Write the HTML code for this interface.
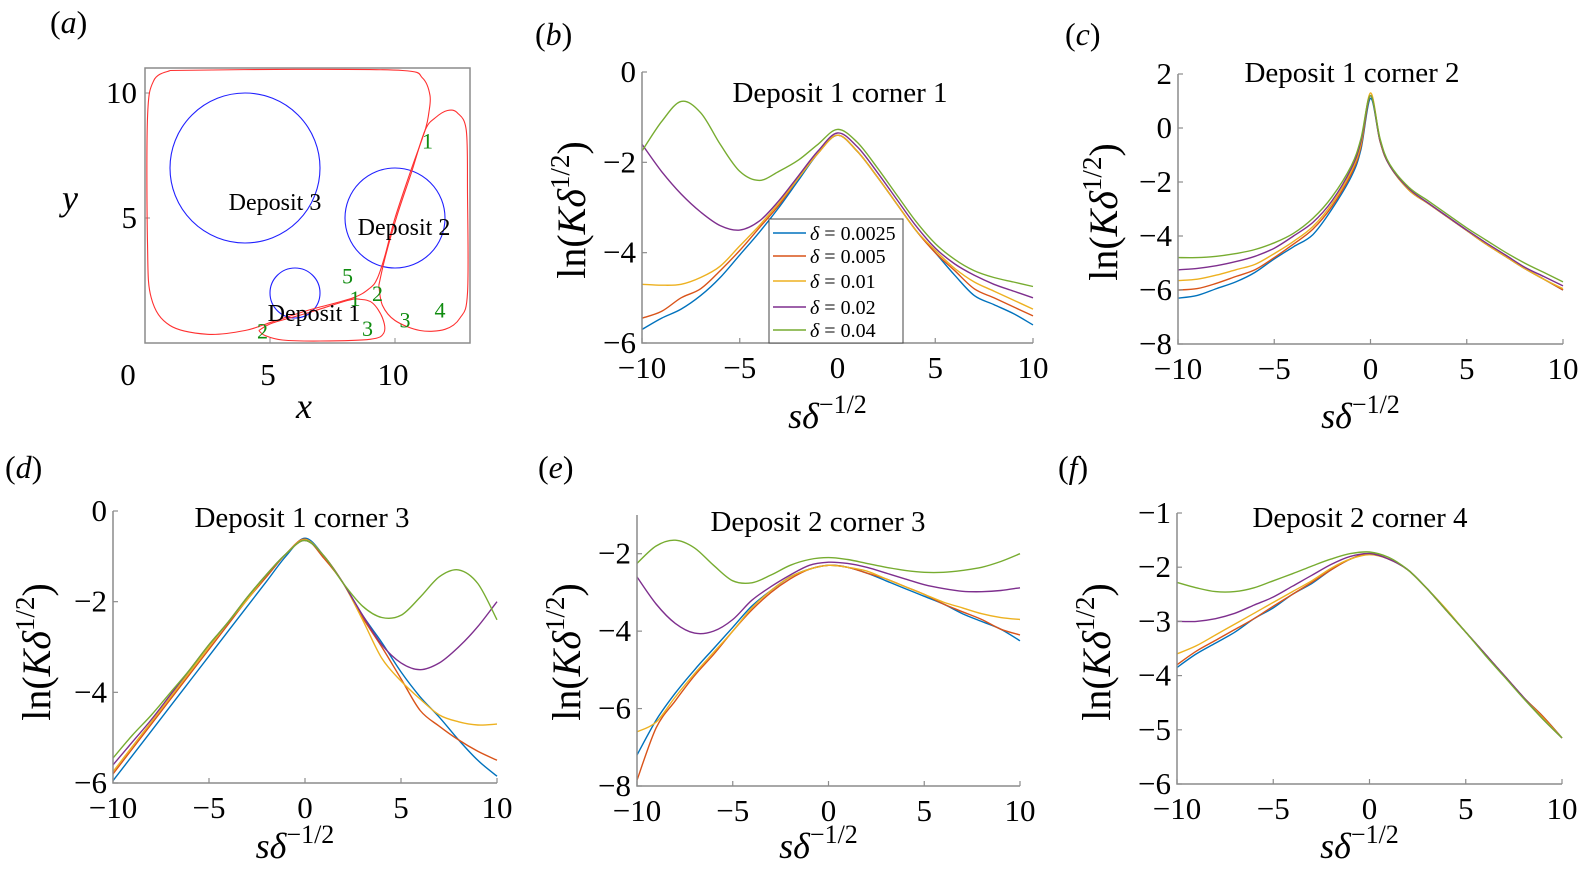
<!DOCTYPE html>
<html><head><meta charset="utf-8"><style>
html,body{margin:0;padding:0;background:#fff;}
svg{display:block;font-family:"Liberation Serif",serif;}
</style></head><body>
<svg id="fig" width="1580" height="887" viewBox="0 0 1580 887" xmlns="http://www.w3.org/2000/svg"></svg>
<script>
// ---------- data ----------
const seriesNames = ["δ = 0.0025","δ = 0.005","δ = 0.01","δ = 0.02","δ = 0.04"];
const seriesColors = ["#0072BD","#D95319","#EDB120","#7E2F8E","#77AC30"];
const xStd = [-10,-9,-8,-7,-6,-5,-4,-3,-2,-1,0,1,2,3,4,5,6,7,8,9,10];
const xPeak = [-10,-9,-8,-7,-6,-5,-4,-3,-2,-1,-0.5,0,0.5,1,2,3,4,5,6,7,8,9,10];
const xTickLabels = [-10,-5,0,5,10];

const bBlue=[-5.7,-5.45,-5.25,-4.95,-4.55,-4.05,-3.55,-3.0,-2.4,-1.8,-1.4,-1.75,-2.3,-2.9,-3.5,-4.0,-4.5,-4.95,-5.15,-5.35,-5.6];
const bRed=[-5.45,-5.3,-5.0,-4.8,-4.4,-3.95,-3.45,-2.95,-2.35,-1.8,-1.4,-1.75,-2.3,-2.9,-3.5,-4.0,-4.4,-4.8,-5.0,-5.2,-5.4];
const bYellow=[-4.7,-4.72,-4.7,-4.55,-4.3,-3.85,-3.4,-2.9,-2.35,-1.8,-1.4,-1.75,-2.3,-2.9,-3.5,-3.95,-4.35,-4.65,-4.85,-5.05,-5.25];
const bPurple=[-1.6,-2.2,-2.7,-3.1,-3.4,-3.5,-3.3,-2.85,-2.3,-1.75,-1.35,-1.65,-2.2,-2.8,-3.4,-3.9,-4.25,-4.5,-4.7,-4.85,-5.0];
const bGreen=[-1.75,-1.1,-0.65,-0.9,-1.6,-2.2,-2.4,-2.2,-1.95,-1.6,-1.27,-1.55,-2.1,-2.7,-3.3,-3.8,-4.15,-4.4,-4.55,-4.65,-4.75];

const cBlue=[-6.3,-6.2,-5.95,-5.7,-5.35,-4.85,-4.4,-3.95,-3.0,-1.8,-0.8,1.1,-0.5,-1.4,-2.3,-2.8,-3.3,-3.8,-4.3,-4.75,-5.2,-5.6,-6.0];
const cRed=[-6.0,-5.95,-5.75,-5.5,-5.25,-4.8,-4.3,-3.75,-2.9,-1.7,-0.7,1.2,-0.5,-1.4,-2.3,-2.8,-3.3,-3.8,-4.3,-4.75,-5.2,-5.6,-6.0];
const cYellow=[-5.65,-5.6,-5.45,-5.25,-5.05,-4.65,-4.2,-3.65,-2.8,-1.6,-0.6,1.3,-0.45,-1.4,-2.3,-2.8,-3.3,-3.8,-4.3,-4.75,-5.2,-5.6,-5.95];
const cPurple=[-5.25,-5.2,-5.1,-4.95,-4.75,-4.45,-4.0,-3.5,-2.7,-1.5,-0.5,1.2,-0.45,-1.4,-2.25,-2.78,-3.28,-3.78,-4.25,-4.7,-5.15,-5.5,-5.85];
const cGreen=[-4.8,-4.8,-4.75,-4.65,-4.5,-4.25,-3.9,-3.35,-2.55,-1.4,-0.4,1.2,-0.4,-1.35,-2.2,-2.7,-3.2,-3.7,-4.15,-4.6,-5.0,-5.35,-5.7];

const dBlue=[-5.95,-5.4,-4.85,-4.3,-3.75,-3.2,-2.65,-2.1,-1.55,-1.0,-0.6,-1.0,-1.6,-2.3,-2.9,-3.55,-4.1,-4.55,-5.05,-5.5,-5.85];
const dRed=[-5.8,-5.25,-4.7,-4.15,-3.6,-3.05,-2.5,-1.95,-1.45,-0.95,-0.62,-1.05,-1.6,-2.35,-3.0,-3.7,-4.4,-4.75,-5.05,-5.3,-5.5];
const dYellow=[-5.75,-5.2,-4.65,-4.1,-3.55,-3.0,-2.45,-1.95,-1.4,-0.95,-0.63,-1.0,-1.6,-2.4,-3.25,-3.75,-4.15,-4.5,-4.65,-4.72,-4.7];
const dPurple=[-5.6,-5.1,-4.6,-4.05,-3.5,-2.95,-2.45,-1.9,-1.4,-0.95,-0.65,-1.0,-1.6,-2.3,-2.95,-3.35,-3.5,-3.35,-3.0,-2.55,-2.0];
const dGreen=[-5.45,-4.95,-4.5,-4.0,-3.5,-2.95,-2.45,-1.9,-1.4,-0.95,-0.65,-1.0,-1.6,-2.1,-2.35,-2.3,-1.9,-1.45,-1.3,-1.6,-2.4];

const eBlue=[-7.2,-6.3,-5.6,-5.0,-4.45,-3.9,-3.35,-2.95,-2.6,-2.4,-2.3,-2.35,-2.5,-2.7,-2.9,-3.1,-3.3,-3.55,-3.75,-3.95,-4.25];
const eRed=[-7.85,-6.5,-5.8,-5.15,-4.6,-4.0,-3.45,-3.0,-2.65,-2.4,-2.3,-2.35,-2.5,-2.65,-2.85,-3.05,-3.3,-3.5,-3.7,-3.95,-4.1];
const eYellow=[-6.6,-6.35,-5.7,-5.1,-4.55,-4.0,-3.4,-2.95,-2.6,-2.4,-2.3,-2.35,-2.45,-2.65,-2.85,-3.05,-3.25,-3.4,-3.55,-3.65,-3.7];
const ePurple=[-2.6,-3.3,-3.8,-4.05,-4.0,-3.7,-3.2,-2.85,-2.55,-2.3,-2.22,-2.25,-2.35,-2.5,-2.65,-2.8,-2.9,-2.97,-2.98,-2.95,-2.88];
const eGreen=[-2.25,-1.8,-1.65,-1.85,-2.3,-2.7,-2.75,-2.55,-2.3,-2.15,-2.1,-2.15,-2.25,-2.35,-2.43,-2.48,-2.48,-2.43,-2.35,-2.2,-2.0];

const fBlue=[-3.85,-3.6,-3.4,-3.2,-2.95,-2.75,-2.5,-2.3,-2.05,-1.85,-1.75,-1.85,-2.05,-2.4,-2.8,-3.2,-3.6,-4.0,-4.4,-4.75,-5.15];
const fRed=[-3.8,-3.55,-3.35,-3.15,-2.95,-2.72,-2.5,-2.28,-2.05,-1.85,-1.75,-1.85,-2.05,-2.4,-2.8,-3.2,-3.6,-4.0,-4.4,-4.75,-5.15];
const fYellow=[-3.6,-3.45,-3.25,-3.05,-2.85,-2.65,-2.45,-2.25,-2.02,-1.85,-1.77,-1.85,-2.05,-2.4,-2.78,-3.2,-3.6,-4.0,-4.4,-4.78,-5.15];
const fPurple=[-3.0,-3.0,-2.95,-2.85,-2.7,-2.55,-2.35,-2.15,-1.95,-1.8,-1.75,-1.85,-2.05,-2.4,-2.8,-3.2,-3.6,-4.0,-4.4,-4.8,-5.15];
const fGreen=[-2.28,-2.38,-2.45,-2.45,-2.38,-2.25,-2.12,-1.98,-1.85,-1.75,-1.72,-1.82,-2.05,-2.4,-2.8,-3.2,-3.62,-4.02,-4.42,-4.8,-5.15];

// panel (a) geometry data (data units)
const depositCenters = [[6,2],[10,5],[4,7]];
const depositRadii = [1,2,3];
const depositNames = ["Deposit 1","Deposit 2","Deposit 3"];
const loopOuter = [[1,10.9],[6,10.95],[10.3,10.9],[11.1,10.6],[11.4,9.9],[11.35,9.2],[11.2,8.5],[10.6,6.8],[10,5],[9.6,3.5],[9.3,2.6],[9.0,2.2],[8.3,1.8],[6.5,1.3],[5.1,0.85],[4,0.5],[2.5,0.35],[1,0.7],[0.25,1.8],[0.1,4],[0.1,9],[0.35,10.5],[1,10.9]];
const loopRight = [[9.35,2.3],[9.6,3.4],[10.05,5],[10.65,6.8],[11.2,8.5],[11.6,9.0],[12.1,9.3],[12.5,9.2],[12.85,8.5],[12.9,6],[12.9,2],[12.6,1.0],[12.0,0.55],[11.0,0.5],[10.0,0.9],[9.5,1.5],[9.35,2.3]];
const loopLower = [[4.55,0.5],[4.8,0.3],[5.5,0.12],[7,0.08],[9,0.15],[9.55,0.4],[9.5,1.0],[9.1,1.6],[8.6,1.75],[8.1,1.7],[6.5,1.2],[5.1,0.8],[4.55,0.5]];
const cornerLabels = ["1","5","1","2","2","3","3","4"];
const cornerPos = [[11.3,8.1],[8.1,2.7],[8.4,1.8],[9.3,2.0],[4.7,0.5],[8.9,0.6],[10.4,0.95],[11.8,1.35]];

// ---------- helpers ----------
const NS="http://www.w3.org/2000/svg";
const svg=document.getElementById('fig');
function mk(tag,attrs,parent){const e=document.createElementNS(NS,tag);for(const k in attrs)e.setAttribute(k,attrs[k]);(parent||svg).appendChild(e);return e;}
function txt(s,attrs,parent){const e=mk('text',attrs,parent);e.textContent=s;return e;}
function smooth(P){
  let d='M'+P[0][0].toFixed(1)+','+P[0][1].toFixed(1);
  for(let i=0;i<P.length-1;i++){
    const p0=P[Math.max(0,i-1)],p1=P[i],p2=P[i+1],p3=P[Math.min(P.length-1,i+2)];
    const c1=[p1[0]+(p2[0]-p0[0])/6,p1[1]+(p2[1]-p0[1])/6];
    const c2=[p2[0]-(p3[0]-p1[0])/6,p2[1]-(p3[1]-p1[1])/6];
    d+=`C${c1[0].toFixed(1)},${c1[1].toFixed(1)} ${c2[0].toFixed(1)},${c2[1].toFixed(1)} ${p2[0].toFixed(1)},${p2[1].toFixed(1)}`;
  }
  return d;
}

function panelLabel(letter,x,y){
  const t=mk('text',{x:x,y:y,'font-size':32});
  
  
  const a=mk('tspan',{},t);a.textContent='(';
  const b=mk('tspan',{'font-style':'italic'},t);b.textContent=letter;
  const c=mk('tspan',{},t);c.textContent=')';
}

function linePanel(cfg){
  const g=mk('g',{});
  
  
  const sx=v=>cfg.L+(v+10)/20*(cfg.R-cfg.L);
  const sy=v=>cfg.B-(v-cfg.ymin)/(cfg.ymax-cfg.ymin)*(cfg.B-cfg.T);
  cfg.series.forEach((ys,i)=>{
    const P=ys.map((v,j)=>[sx(cfg.xs[j]),sy(v)]);
    const p=mk('path',{d:smooth(P),fill:'none',stroke:seriesColors[i],'stroke-width':1.4,'stroke-linejoin':'round'},g);
    
    
  });
  const ax=mk('path',{d:`M${cfg.L},${cfg.T}V${cfg.B}H${cfg.R}`,fill:'none',stroke:'#8c8c8c','stroke-width':1.5},g);
  
  
  xTickLabels.forEach(v=>{
    mk('line',{x1:sx(v),x2:sx(v),y1:cfg.B,y2:cfg.B-5,stroke:'#8c8c8c','stroke-width':1.2},g);
    const t=txt(String(v).replace('-','\u2212'),{x:sx(v),y:cfg.B+35,'font-size':31,'text-anchor':'middle'},g);
    
    
  });
  cfg.yticks.forEach(v=>{
    mk('line',{x1:cfg.L,x2:cfg.L+5,y1:sy(v),y2:sy(v),stroke:'#8c8c8c','stroke-width':1.2},g);
    const t=txt(String(v).replace('-','\u2212'),{x:cfg.L-6,y:sy(v)+10,'font-size':31,'text-anchor':'end'},g);
    
    
  });
  const ti=txt(cfg.title,{x:cfg.tx,y:cfg.ty,'font-size':29,'text-anchor':'middle'},g);
  
  
  const xl=mk('text',{x:(cfg.L+cfg.R)/2-10,y:cfg.xly,'font-size':36,'text-anchor':'middle'},g);
  
  
  const s1=mk('tspan',{'font-style':'italic'},xl);s1.textContent='sδ';
  const s2=mk('tspan',{'font-size':26,dy:-15},xl);s2.textContent='\u22121/2';
  const yl=mk('text',{transform:`translate(${cfg.ylx},${cfg.yly}) rotate(-90)`,'font-size':40,'text-anchor':'middle'},g);
  
  
  const y1=mk('tspan',{},yl);y1.textContent='ln(';
  const y2=mk('tspan',{'font-style':'italic'},yl);y2.textContent='Kδ';
  const y3=mk('tspan',{'font-size':27,dy:-16},yl);y3.textContent='1/2';
  const y4=mk('tspan',{dy:16},yl);y4.textContent=')';
  return g;
}

// ---------- panel (a) ----------
(function(){
  const g=mk('g',{});
  
  
  const X=v=>145+v*25, Y=v=>343-v*25;
  const box=mk('rect',{x:145,y:68,width:325,height:275,fill:'none',stroke:'#8c8c8c','stroke-width':1.5},g);
  
  
  [0,5,10].forEach(v=>{
    mk('line',{x1:X(v),x2:X(v),y1:343,y2:338,stroke:'#8c8c8c'},g);
    const t=txt(String(v),{x:X(v)-(v===0?17:2),y:385,'font-size':31,'text-anchor':'middle'},g);
    
    
  });
  [5,10].forEach(v=>{
    mk('line',{x1:145,x2:150,y1:Y(v),y2:Y(v),stroke:'#8c8c8c'},g);
    const t=txt(String(v),{x:137,y:Y(v)+10,'font-size':31,'text-anchor':'end'},g);
    
    
  });
  const xl=txt('x',{x:304,y:418,'font-size':36,'font-style':'italic','text-anchor':'middle'},g);
  
  
  const yl=txt('y',{x:70,y:210,'font-size':36,'font-style':'italic','text-anchor':'middle'},g);
  
  
  depositCenters.forEach((c,i)=>{
    const ci=mk('circle',{cx:X(c[0]),cy:Y(c[1]),r:depositRadii[i]*25,fill:'none',stroke:'#2020ff','stroke-width':1.1},g);
    
    
  });
  [loopOuter,loopRight,loopLower].forEach((L,i)=>{
    const p=mk('path',{d:smooth(L.map(q=>[X(q[0]),Y(q[1])])),fill:'none',stroke:'#ff3030','stroke-width':1.1,'stroke-linejoin':'round'},g);
    
    
  });
  const dl=[[275,210],[404,235],[314,321]];
  [2,1,0].forEach((i,k)=>{
    const t=txt(depositNames[i],{x:dl[k][0],y:dl[k][1],'font-size':24,'text-anchor':'middle'},g);
    
    
  });
  cornerLabels.forEach((s,i)=>{
    const t=txt(s,{x:X(cornerPos[i][0]),y:Y(cornerPos[i][1])+8,'font-size':22,fill:'#108c10','text-anchor':'middle'},g);
    
    
  });
})();

// ---------- line panels ----------
linePanel({id:'b',L:642,R:1033,T:72,B:343,ymin:-6,ymax:0,yticks:[0,-2,-4,-6],xs:xStd,
  series:[bBlue,bRed,bYellow,bPurple,bGreen],title:'Deposit 1 corner 1',tx:840,ty:102,xly:428,ylx:585,yly:210});
linePanel({id:'c',L:1178,R:1563,T:74,B:344,ymin:-8,ymax:2,yticks:[2,0,-2,-4,-6,-8],xs:xPeak,
  series:[cBlue,cRed,cYellow,cPurple,cGreen],title:'Deposit 1 corner 2',tx:1352,ty:82,xly:428,ylx:1117,yly:212});
linePanel({id:'d',L:113,R:497,T:511,B:783,ymin:-6,ymax:0,yticks:[0,-2,-4,-6],xs:xStd,
  series:[dBlue,dRed,dYellow,dPurple,dGreen],title:'Deposit 1 corner 3',tx:302,ty:527,xly:858,ylx:50,yly:652});
linePanel({id:'e',L:637,R:1020,T:515,B:786,ymin:-8,ymax:-1,yticks:[-2,-4,-6,-8],xs:xStd,
  series:[eBlue,eRed,eYellow,ePurple,eGreen],title:'Deposit 2 corner 3',tx:818,ty:531,xly:858,ylx:580,yly:652});
linePanel({id:'f',L:1177,R:1562,T:513,B:784,ymin:-6,ymax:-1,yticks:[-1,-2,-3,-4,-5,-6],xs:xStd,
  series:[fBlue,fRed,fYellow,fPurple,fGreen],title:'Deposit 2 corner 4',tx:1360,ty:527,xly:858,ylx:1110,yly:652});

// legend in (b)
(function(){
  const g=mk('g',{});
  
  
  mk('rect',{x:769,y:219,width:134,height:124,fill:'#fff',stroke:'#444','stroke-width':1},g);
  const ys=[233,256,281,307,330];
  seriesNames.forEach((n,i)=>{
    const e=mk('g',{},g);
    
    
    mk('line',{x1:773,x2:806,y1:ys[i],y2:ys[i],stroke:seriesColors[i],'stroke-width':1.4},e);
    const t=mk('text',{x:810,y:ys[i]+7,'font-size':20},e);
    const a=mk('tspan',{'font-style':'italic'},t);a.textContent='δ';
    const b=mk('tspan',{},t);b.textContent=n.slice(1);
  });
})();

panelLabel('a',50,33);
panelLabel('b',535,45);
panelLabel('c',1065,45);
panelLabel('d',5,478);
panelLabel('e',538,478);
panelLabel('f',1058,478);
</script>
</body></html>
